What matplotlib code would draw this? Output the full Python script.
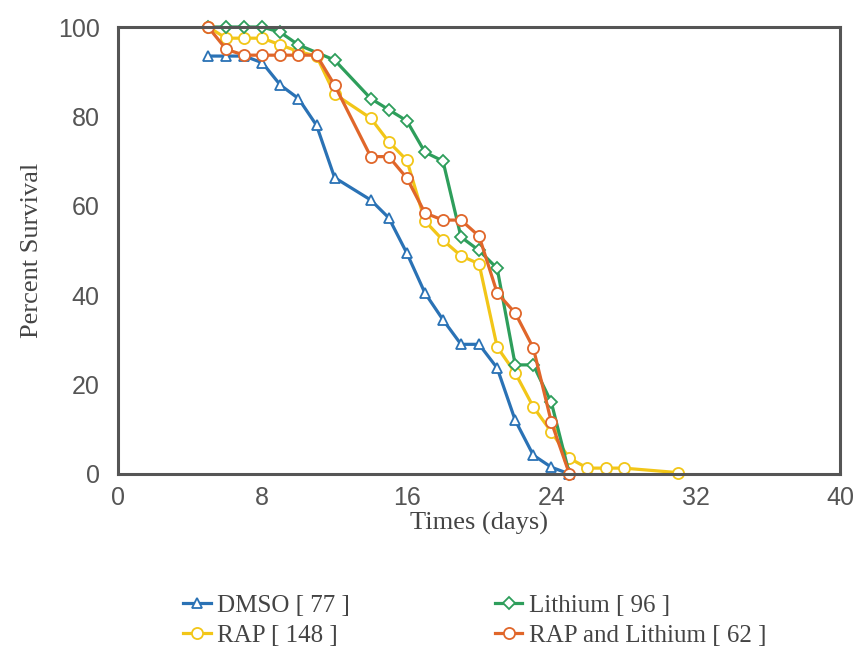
import matplotlib
matplotlib.use('Agg')
import matplotlib.pyplot as plt

# survival data (days, percent)
dmso_days = [5, 6, 7, 8, 9, 10, 11, 12, 14, 15, 16, 17, 18, 19, 20, 21, 22, 23, 24, 25]
dmso_pct = [93.5, 93.5, 93.5, 92, 87, 84, 78, 66.3, 61.3, 57.3, 49.4, 40.5, 34.5, 29, 29, 23.7, 12, 4.2, 1.5, 0]

rap_days = [5, 6, 7, 8, 9, 10, 11, 12, 14, 15, 16, 17, 18, 19, 20, 21, 22, 23, 24, 25, 26, 27, 28, 31]
rap_pct = [100, 97.5, 97.5, 97.5, 96, 94.5, 93.5, 85, 79.6, 74.3, 70.2, 56.6, 52.3, 48.8, 47, 28.4,
           22.6, 15, 9.4, 3.5, 1.3, 1.3, 1.3, 0.3]

li_days = [5, 6, 7, 8, 9, 10, 12, 14, 15, 16, 17, 18, 19, 20, 21, 22, 23, 24, 25]
li_pct = [100, 100, 100, 100, 98.8, 96, 92.6, 84, 81.5, 79, 72, 70, 53, 50, 46, 24.4, 24.4, 16, 0]

rl_days = [5, 6, 7, 8, 9, 10, 11, 12, 14, 15, 16, 17, 18, 19, 20, 21, 22, 23, 24, 25]
rl_pct = [100, 95, 93.7, 93.7, 93.7, 93.7, 93.7, 87, 71, 71, 66.2, 58.4, 56.8, 56.8, 53.2, 40.5,
          36, 28.2, 11.6, 0]

labels = ['DMSO [ 77 ]', 'RAP [ 148 ]', 'Lithium [ 96 ]', 'RAP and Lithium [ 62 ]']
colors = ['#2a72b5', '#f2c618', '#2e9e5b', '#e0662a']
markers = ['^', 'o', 'D', 'o']
msizes = [7, 8, 6, 8]

x_ticks = [0, 8, 16, 24, 32, 40]
y_ticks = [0, 20, 40, 60, 80, 100]

fig = plt.figure(figsize=(8.54, 6.51), dpi=100)
ax = fig.add_axes([0.138, 0.272, 0.846, 0.6865])

series = [(dmso_days, dmso_pct), (rap_days, rap_pct), (li_days, li_pct), (rl_days, rl_pct)]
handles = []
for (x, y), lab, c, m, ms in zip(series, labels, colors, markers, msizes):
    h, = ax.plot(x, y, color=c, linewidth=2.3, marker=m, markersize=ms,
                 markerfacecolor='white', markeredgecolor=c, markeredgewidth=1.3,
                 label=lab, clip_on=False)
    handles.append(h)

ax.set_xlim(0, 40)
ax.set_ylim(0, 100)
ax.set_xticks(x_ticks)
ax.set_yticks(y_ticks)
ax.tick_params(axis='y', length=0, pad=13, labelsize=18, labelcolor='#555555')
ax.tick_params(axis='x', length=0, pad=9, labelsize=18, labelcolor='#555555')
for lbl in ax.get_xticklabels() + ax.get_yticklabels():
    lbl.set_family('Liberation Sans')
for sp in ax.spines.values():
    sp.set_color('#555555')
    sp.set_linewidth(2.2)

ax.set_xlabel('Times (days)', family='Liberation Serif', fontsize=19, color='#444444', labelpad=1)
ax.set_ylabel('Percent Survival', family='Liberation Serif', fontsize=19, color='#444444', labelpad=11)

fig.legend(handles=handles, labels=labels, ncol=2, frameon=False,
           loc='upper left', bbox_to_anchor=(0.200, 0.106), borderpad=0,
           prop={'family': 'Liberation Serif', 'size': 18},
           labelcolor='#444444', handlelength=1.1, handletextpad=0.25,
           columnspacing=5.8, labelspacing=0.3)

plt.savefig('out.png', dpi=100)
